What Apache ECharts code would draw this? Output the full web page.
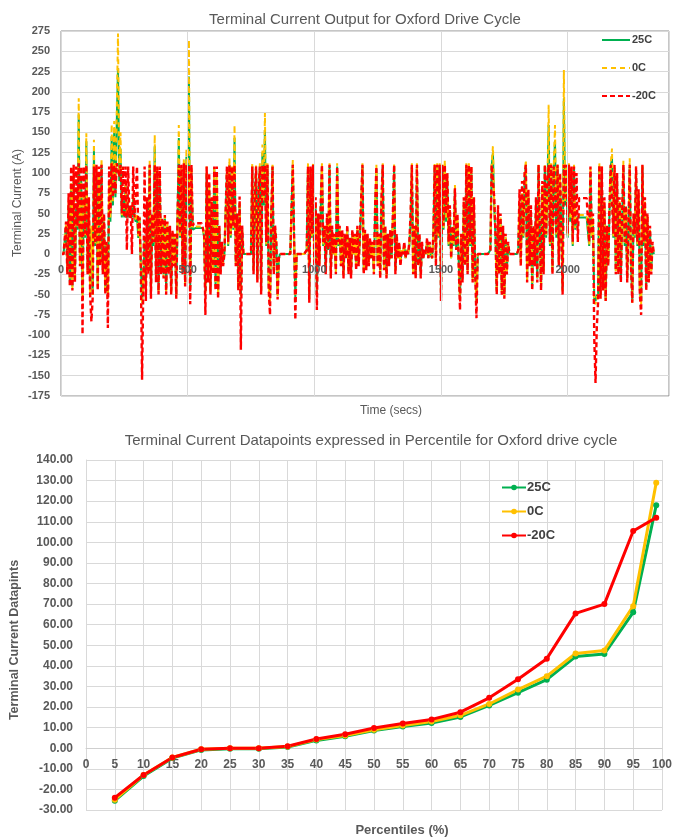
<!DOCTYPE html>
<html>
<head>
<meta charset="utf-8">
<script src="https://cdn.jsdelivr.net/npm/echarts@6/dist/echarts.min.js"></script>
<style>
  html, body { margin: 0; padding: 0; background: #ffffff; }
  #chart { width: 675px; height: 837px; }
</style>
</head>
<body>
<div id="chart"></div>
<script>
// Terminal current logged every SAMPLE_STEP seconds over the Oxford drive cycle (A)
const SAMPLE_STEP = 5;

const current25C = [
  0,0,0,0,35,-20,60,-35,80,-40,95,-30,60,30,172,-10,90,-50,70,20,            // 0 s
  139,-20,60,-45,30,-50,127,10,100,-40,90,-10,110,-20,40,-45,10,-50,80,40,     // 100 s
  145,60,150,70,160,229,90,130,45,70,45,85,45,60,45,50,45,70,45,40,            // 200 s
  45,20,45,-10,-60,-30,20,-45,60,-20,108,-50,40,10,133,-30,100,-45,90,-20,     // 300 s
  40,-25,45,-45,35,-20,30,-45,25,-10,20,-50,40,143,20,100,-20,110,-35,120,     // 400 s
  60,219,-40,100,30,32,32,32,32,32,32,32,32,20,-45,100,-30,80,-45,60,          // 500 s
  -20,105,-40,90,-50,30,-20,10,-10,0,0,100,10,110,20,100,30,143,-10,40,        // 600 s
  -40,60,-50,30,0,0,0,0,0,0,0,108,-20,60,105,-30,70,108,-45,125,               // 700 s
  60,153,10,108,-40,-55,40,108,-20,30,10,-50,-5,0,0,0,0,0,0,0,                 // 800 s
  0,0,0,110,20,-55,0,0,0,0,0,0,0,0,5,108,-55,100,20,108,                       // 900 s
  -10,60,-50,40,-10,50,108,10,30,-20,40,5,108,-25,30,0,20,-20,108,10,          // 1000 s
  30,-10,25,-25,20,-5,30,-20,15,-25,25,0,20,-15,30,-10,20,60,108,-20,          // 1100 s
  25,-15,20,-10,15,-5,10,-20,50,105,-10,20,-25,60,108,-15,30,-25,20,-10,       // 1200 s
  25,-5,40,108,-20,20,-5,10,-10,5,0,10,-5,5,0,10,40,108,-20,30,                // 1300 s
  -25,108,-10,20,-25,10,-5,5,0,15,-5,10,0,-5,20,108,-10,108,20,108,            // 1400 s
  -55,108,30,110,40,90,10,50,-5,30,10,80,5,40,-10,-55,20,-30,60,-10,           // 1500 s
  108,-20,108,10,100,-30,60,-20,-60,0,0,0,0,0,0,0,0,0,0,5,                     // 1600 s
  108,125,60,20,-45,50,-20,40,-45,30,-50,20,-20,10,0,0,0,0,0,0,                // 1700 s
  0,5,60,-10,70,20,90,110,-30,70,-10,50,-40,30,-10,60,-30,108,20,-40,          // 1800 s
  80,-20,108,20,80,159,10,108,-20,100,140,20,108,-10,90,30,-44,192,60,108,     // 1900 s
  20,108,40,100,10,105,30,45,45,45,45,45,45,45,45,45,45,10,100,20,             // 2000 s
  40,-55,-58,-50,-55,108,-50,100,-40,60,-55,30,-10,50,108,118,20,100,-20,90,   // 2100 s
  -20,60,-30,40,108,10,50,-30,30,108,-10,-58,40,20,100,10,70,-45,-58,108,      // 2200 s
  10,60,-40,40,-30,30,-20,10,0                                                  // 2300 s
];

const current0C = [
  0,0,0,0,38,-22,65,-38,88,-42,100,-32,65,32,192,-12,95,-52,75,22,
  149,-22,65,-48,35,-52,141,12,108,-42,95,-12,118,-22,45,-48,12,-52,88,45,
  160,65,164,75,175,272,100,150,48,75,48,90,48,65,48,55,48,75,48,42,
  48,22,48,-12,-62,-32,22,-48,65,-22,115,-52,45,12,147,-32,108,-48,95,-22,
  42,-28,48,-48,38,-22,32,-48,28,-12,22,-52,45,159,22,108,-22,118,-38,130,
  65,264,-42,108,32,34,34,34,34,34,34,34,34,22,-48,108,-32,88,-48,65,
  -22,108,-42,95,-52,32,-22,12,-12,0,0,105,12,118,22,108,32,159,-12,45,
  -42,65,-52,32,0,0,0,0,0,0,0,112,-22,65,110,-32,75,112,-48,135,
  65,174,12,112,-42,-58,45,112,-22,32,12,-52,-5,0,0,0,0,0,0,0,
  0,0,0,116,22,-58,0,0,0,0,0,0,0,0,5,112,-58,108,22,112,
  -12,65,-52,45,-12,55,112,12,32,-22,45,5,112,-28,32,0,22,-22,112,12,
  32,-12,28,-28,22,-5,32,-22,18,-28,28,0,22,-18,32,-12,22,65,112,-22,
  28,-18,22,-12,18,-5,12,-22,55,110,-12,22,-28,65,112,-18,32,-28,22,-12,
  28,-5,45,112,-22,22,-5,12,-12,5,0,12,-5,5,0,12,45,112,-22,32,
  -28,112,-12,22,-28,12,-5,5,0,18,-5,12,0,-5,22,112,-12,112,22,112,
  -58,112,32,116,45,95,12,55,-5,32,12,85,5,45,-12,-58,22,-32,65,-12,
  112,-22,112,12,108,-32,65,-22,-62,0,0,0,0,0,0,0,0,0,0,5,
  112,133,65,22,-48,55,-22,45,-48,32,-52,22,-22,12,0,0,0,0,0,0,
  0,5,65,-12,75,22,95,116,-32,75,-12,55,-42,32,-12,65,-32,112,22,-42,
  85,-22,112,22,85,184,12,112,-22,108,159,22,112,-12,95,32,-46,227,65,112,
  22,112,45,108,12,110,32,48,48,48,48,48,48,48,48,48,48,12,108,22,
  45,-58,-62,-52,-58,112,-52,108,-42,65,-58,32,-12,55,112,130,22,108,-22,95,
  -22,65,-32,45,115,12,55,-32,32,118,-12,-60,45,22,108,12,75,-48,-62,112,
  12,65,-42,45,-32,32,-22,12,0
];

const currentMinus20C = [
  0,0,0,0,40,-25,75,-40,108,-45,110,-35,108,35,112,-15,108,-99,108,25,
  110,-25,70,-50,-83,-55,108,15,110,-45,108,-15,110,-25,50,-50,15,-91,108,50,
  112,70,110,75,112,110,95,110,50,108,45,108,5,108,45,60,0,108,45,45,
  108,25,45,-15,-155,-35,108,-58,70,-25,110,-55,50,15,110,-35,108,-50,108,-25,
  45,-30,48,-50,40,-25,35,-50,30,-15,25,-55,50,110,25,110,-25,112,-40,110,
  70,110,-62,110,35,38,38,38,38,38,38,38,38,25,-75,108,-35,100,-50,70,
  -25,108,-45,108,-55,35,-25,15,-15,0,0,108,15,110,25,108,35,110,-15,50,
  -45,71,-118,35,0,0,0,0,0,0,0,108,-25,70,108,-35,80,108,-50,110,
  70,110,15,110,-45,-75,50,108,-25,35,15,-56,-5,0,0,0,0,0,0,0,
  0,0,0,110,25,-81,0,0,0,0,0,0,0,0,5,108,-60,108,25,110,
  -15,70,-69,50,-15,60,110,15,35,-25,50,5,110,-30,35,0,25,-25,108,15,
  35,-15,30,-30,25,-5,36,-25,20,-30,30,0,25,-20,35,-15,25,70,110,-25,
  30,-20,25,-15,20,-5,15,-25,60,108,-15,25,-30,70,110,-20,35,-30,25,-15,
  30,-5,50,110,-25,25,-5,15,-15,5,0,15,-5,5,0,15,50,110,-25,35,
  -30,110,-15,25,-30,15,-5,5,0,20,-5,15,0,-5,25,110,-15,110,25,110,
  -58,110,35,110,50,100,15,60,-5,35,15,81,5,50,-15,-69,25,-35,70,-15,
  110,-25,110,15,108,-35,70,-25,-79,0,0,0,0,0,0,0,0,0,0,5,
  110,110,70,25,-50,60,-25,50,-50,35,-55,25,-25,15,0,0,0,0,0,0,
  0,5,80,-15,90,25,100,110,-35,80,-15,60,-45,35,-15,70,-35,110,25,-45,
  90,-25,110,25,90,110,15,110,-25,108,110,25,110,-15,100,35,-50,110,70,110,
  25,110,50,108,15,108,35,100,15,69,69,69,69,69,69,69,69,15,108,25,
  50,-104,-159,-90,-60,110,-55,108,-45,70,-58,35,-15,60,110,112,25,110,-25,100,
  -25,70,-35,50,110,15,60,-35,35,110,-15,-60,50,25,108,15,80,-50,-75,110,
  15,70,-45,50,-35,35,-25,15,0
];

// Percentile summary of the terminal current datapoints
const percentiles = [5, 10, 15, 20, 25, 30, 35, 40, 45, 50, 55, 60, 65, 70, 75, 80, 85, 90, 95, 99];
const pct25C      = [-25.5, -13.5, -4.8, -0.8, -0.2, -0.2, 0.6, 3.8, 5.8, 8.6, 10.5, 12.3, 15.2, 20.8, 27.0, 33.3, 44.5, 45.8, 66.0, 118.0];
const pct0C       = [-25.0, -13.0, -4.5, -0.5, 0.0, 0.0, 0.8, 4.2, 6.2, 9.0, 11.0, 13.0, 16.0, 21.5, 28.5, 35.0, 46.0, 47.5, 69.0, 129.0];
const pctMinus20C = [-24.0, -13.0, -4.5, -0.5, 0.0, 0.0, 1.0, 4.5, 6.8, 9.8, 12.0, 14.0, 17.5, 24.5, 33.5, 43.5, 65.5, 70.0, 105.5, 112.0];

const seriesNames = ['25C', '0C', '-20C'];
const seriesColors = ['#00B050', '#FFC000', '#FF0000'];
const seriesDashes = [null, [5, 4], [5, 3]];

const timeSeries = arr => arr.map((v, i) => [i * SAMPLE_STEP, v]);
const pctSeries = arr => arr.map((v, i) => [percentiles[i], v]);

const GRAY = '#595959';
const FONT = '"Liberation Sans", Arial, sans-serif';

// Plot areas
const TOP = { left: 61, top: 31, width: 608, height: 365, zeroY: 254 };
const BOT = { left: 86, top: 460, width: 578, height: 350, zeroY: 748 };

function textEl(x, y, text, font, rotation) {
  return {
    type: 'text', x: x, y: y, rotation: rotation || 0, z: 10,
    style: { text: text, fill: GRAY, font: font, align: 'center', verticalAlign: 'middle', textAlign: 'center', textVerticalAlign: 'middle' }
  };
}

// Key for the time-series panel: short line samples with the series' stroke style
const topKey = [];
seriesNames.forEach((name, i) => {
  const y = 40 + i * 28;
  topKey.push({
    type: 'line', z: 10,
    shape: { x1: 602, y1: y, x2: 630, y2: y },
    style: { stroke: seriesColors[i], lineWidth: 2, lineDash: seriesDashes[i] }
  });
  topKey.push({
    type: 'text', x: 632, y: y, z: 10,
    style: { text: name, fill: '#404040', font: 'bold 11px ' + FONT, align: 'left', verticalAlign: 'middle', textAlign: 'left', textVerticalAlign: 'middle' }
  });
});

const chart = echarts.init(document.getElementById('chart'), null, { renderer: 'canvas' });

chart.setOption({
  animation: false,
  backgroundColor: '#ffffff',
  textStyle: { fontFamily: FONT },
  title: [
    {
      text: 'Terminal Current Output for Oxford Drive Cycle',
      left: 360, top: 7, textAlign: 'center',
      textStyle: { fontFamily: FONT, fontSize: 15, fontWeight: 'normal', color: GRAY }
    },
    {
      text: 'Terminal Current Datapoints expressed in Percentile for Oxford drive cycle',
      left: 366, top: 428, textAlign: 'center',
      textStyle: { fontFamily: FONT, fontSize: 15, fontWeight: 'normal', color: GRAY }
    }
  ],
  legend: [
    {
      data: seriesNames.map(n => ({ name: n + ' ' })),
      orient: 'vertical',
      left: 496, top: 476,
      itemWidth: 24, itemHeight: 7, itemGap: 11,
      textStyle: { fontFamily: FONT, fontSize: 13, fontWeight: 'bold', color: '#404040', padding: [0, 0, 0, -4] }
    }
  ],
  grid: [
    { left: TOP.left, top: TOP.top, width: TOP.width, height: TOP.height, show: true, borderColor: '#8c8c8c', borderWidth: 1, backgroundColor: 'transparent' },
    { left: BOT.left, top: BOT.top, width: BOT.width, height: BOT.height }
  ],
  xAxis: [
    {
      gridIndex: 0, type: 'value', min: 0, max: 2400, interval: 500, z: 5,
      offset: TOP.zeroY - (TOP.top + TOP.height),
      axisLine: { show: false, onZero: false },
      axisTick: { show: false },
      axisLabel: { color: GRAY, fontSize: 11, fontWeight: 'bold', margin: 10, showMaxLabel: false, formatter: v => String(v) },
      splitLine: { show: true, lineStyle: { color: '#d9d9d9' } }
    },
    {
      gridIndex: 1, type: 'value', min: 0, max: 100, interval: 5,
      offset: BOT.zeroY - (BOT.top + BOT.height),
      axisLine: { onZero: false, lineStyle: { color: '#cfcfcf' } },
      axisTick: { show: false },
      axisLabel: { color: GRAY, fontSize: 12, fontWeight: 'bold', margin: 11, formatter: v => String(v) },
      splitLine: { show: true, lineStyle: { color: '#d9d9d9' } }
    }
  ],
  yAxis: [
    {
      gridIndex: 0, type: 'value', min: -175, max: 275, interval: 25,
      axisLine: { show: false }, axisTick: { show: false },
      axisLabel: { color: GRAY, fontSize: 11, fontWeight: 'bold', margin: 11 },
      splitLine: { show: true, lineStyle: { color: '#d9d9d9' } }
    },
    {
      gridIndex: 1, type: 'value', min: -30, max: 140, interval: 10,
      axisLine: { show: true, lineStyle: { color: '#d9d9d9' } }, axisTick: { show: false },
      axisLabel: { color: GRAY, fontSize: 12, fontWeight: 'bold', margin: 13, formatter: v => v.toFixed(2) },
      splitLine: { show: true, lineStyle: { color: '#d9d9d9' } }
    }
  ],
  graphic: [
    textEl(18, 203, 'Terminal Current (A)', '12px ' + FONT, Math.PI / 2),
    textEl(391, 411, 'Time (secs)', '12px ' + FONT),
    textEl(15, 640, 'Terminal Current Datapints', 'bold 12.5px ' + FONT, Math.PI / 2),
    textEl(402, 830, 'Percentiles (%)', 'bold 13px ' + FONT)
  ].concat(topKey),
  series: [
    {
      name: '25C', type: 'line', xAxisIndex: 0, yAxisIndex: 0,
      data: timeSeries(current25C), showSymbol: false, symbol: 'none', sampling: 'none',
      color: seriesColors[0],
      lineStyle: { color: seriesColors[0], width: 2, type: 'solid' }
    },
    {
      name: '0C', type: 'line', xAxisIndex: 0, yAxisIndex: 0,
      data: timeSeries(current0C), showSymbol: false, symbol: 'none', sampling: 'none',
      color: seriesColors[1],
      lineStyle: { color: seriesColors[1], width: 2, type: seriesDashes[1] }
    },
    {
      name: '-20C', type: 'line', xAxisIndex: 0, yAxisIndex: 0,
      data: timeSeries(currentMinus20C), showSymbol: false, symbol: 'none', sampling: 'none',
      color: seriesColors[2],
      lineStyle: { color: seriesColors[2], width: 2.4, type: seriesDashes[2] }
    },
    {
      name: '25C ', type: 'line', xAxisIndex: 1, yAxisIndex: 1,
      data: pctSeries(pct25C), symbol: 'circle', symbolSize: 6,
      color: seriesColors[0],
      itemStyle: { color: seriesColors[0] },
      lineStyle: { color: seriesColors[0], width: 3 }
    },
    {
      name: '0C ', type: 'line', xAxisIndex: 1, yAxisIndex: 1,
      data: pctSeries(pct0C), symbol: 'circle', symbolSize: 6,
      color: seriesColors[1],
      itemStyle: { color: seriesColors[1] },
      lineStyle: { color: seriesColors[1], width: 3 }
    },
    {
      name: '-20C ', type: 'line', xAxisIndex: 1, yAxisIndex: 1,
      data: pctSeries(pctMinus20C), symbol: 'circle', symbolSize: 6,
      color: seriesColors[2],
      itemStyle: { color: seriesColors[2] },
      lineStyle: { color: seriesColors[2], width: 3 }
    }
  ]
});
</script>
</body>
</html>
